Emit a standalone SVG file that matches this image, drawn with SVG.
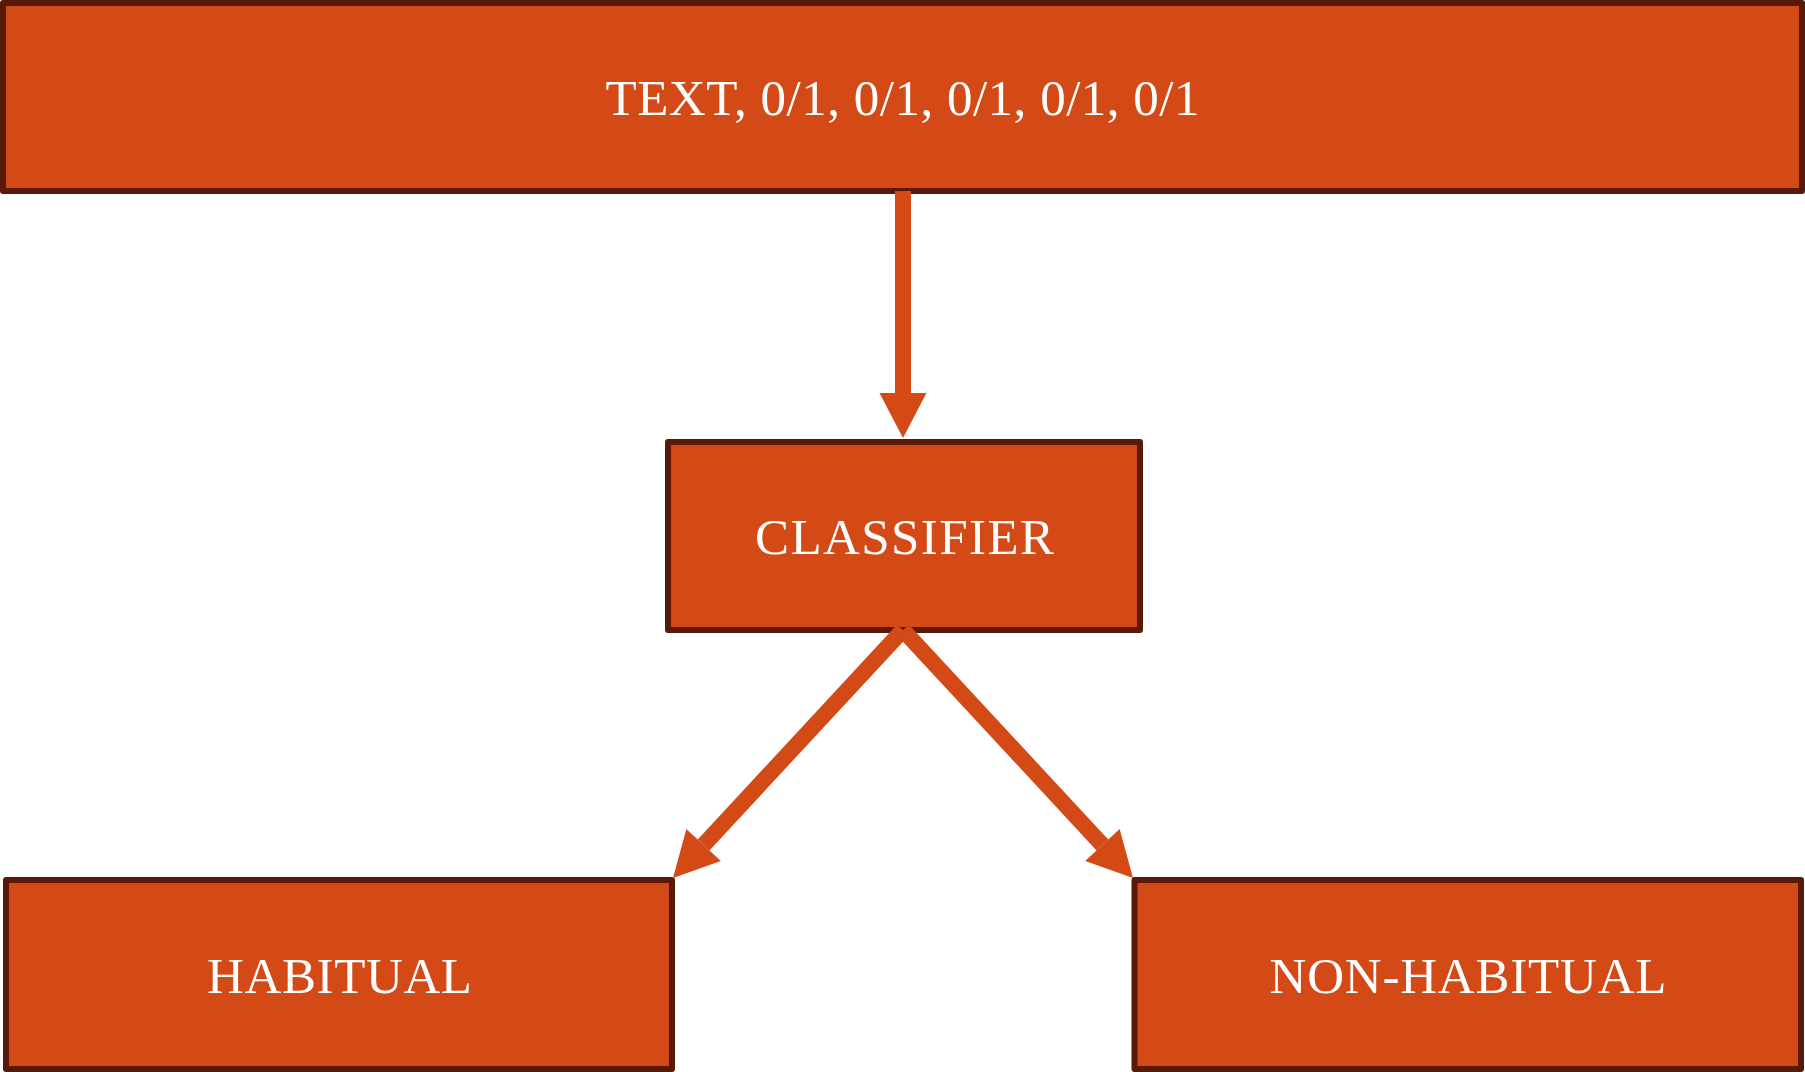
<svg xmlns="http://www.w3.org/2000/svg" width="1805" height="1072" viewBox="0 0 1805 1072">
  <style>
    .box { fill: #D34A17; stroke: #581A06; stroke-width: 6; stroke-linejoin: round; }
    .label { fill: #FFFFFF; font-family: "Liberation Serif", "DejaVu Serif", serif; font-size: 51px; text-anchor: middle; }
    .edge { stroke: #D34A17; stroke-width: 16; fill: none; marker-end: url(#head); }
  </style>
  <defs>
    <marker id="head" markerUnits="userSpaceOnUse" markerWidth="46" markerHeight="48" refX="0" refY="23.5" orient="auto" overflow="visible">
      <path d="M0,0 L45,23.5 L0,47 Z" fill="#D34A17"/>
    </marker>
  </defs>

  <g id="node-input">
    <rect class="box" x="3" y="3" width="1799" height="188"/>
    <text class="label" x="902.5" y="115" textLength="594" lengthAdjust="spacing">TEXT, 0/1, 0/1, 0/1, 0/1, 0/1</text>
  </g>

  <g id="node-classifier">
    <rect class="box" x="668" y="442" width="472" height="188"/>
    <text class="label" x="904.5" y="553.5" textLength="299" lengthAdjust="spacing">CLASSIFIER</text>
  </g>

  <g id="node-habitual">
    <rect class="box" x="6" y="880" width="666" height="189"/>
    <text class="label" x="339.5" y="992.5" textLength="265" lengthAdjust="spacing">HABITUAL</text>
  </g>

  <g id="node-non-habitual">
    <rect class="box" x="1134.5" y="880" width="666.5" height="189"/>
    <text class="label" x="1468" y="992.5" textLength="397" lengthAdjust="spacing">NON-HABITUAL</text>
  </g>

  <g id="connectors">
    <path class="edge" d="M903,191 L903,393"/>
    <path class="edge" d="M903,630 L703.6,845"/>
    <path class="edge" d="M903,630 L1102.4,845"/>
  </g>
</svg>
